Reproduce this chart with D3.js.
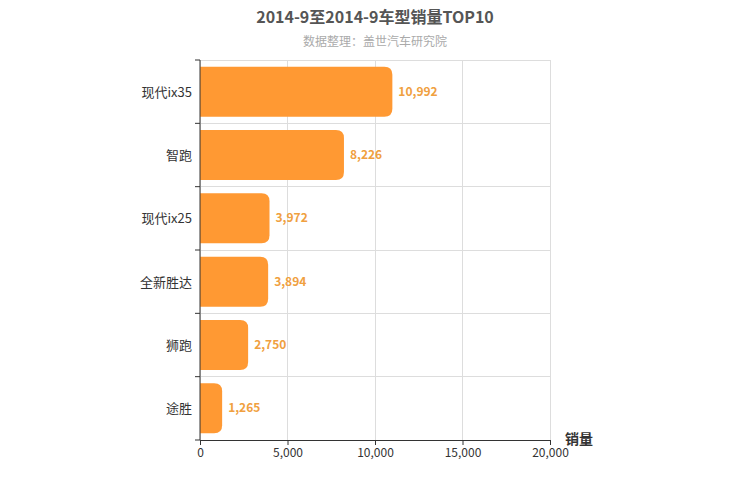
<!DOCTYPE html>
<html><head><meta charset="utf-8">
<script src="https://cdn.jsdelivr.net/npm/d3@7"></script>
<style>body{margin:0;background:#fff}text{font-family:"Noto Sans CJK SC","Noto Sans",sans-serif}</style>
</head><body><svg id="chart" width="750" height="500"></svg>
<script>
const categories = ['现代ix35', '智跑', '现代ix25', '全新胜达', '狮跑', '途胜'];
const sales = [10992, 8226, 3972, 3894, 2750, 1265];
const xTicks = [0, 5000, 10000, 15000, 20000];

const svg = d3.select('#chart');
const m = { left: 200, right: 550, top: 60, bottom: 440 };

const x = d3.scaleLinear().domain([0, 20000]).range([m.left, m.right]);
const y = d3.scaleBand().domain(categories).range([m.top, m.bottom]).paddingInner(0.2).paddingOuter(0.1);
const step = y.step();

svg.append('text').attr('x', 375).attr('y', 23).attr('text-anchor', 'middle')
    .attr('font-size', 16).attr('font-weight', 'bold').attr('fill', '#555').text('2014-9至2014-9车型销量TOP10');
svg.append('text').attr('x', 375).attr('y', 46).attr('text-anchor', 'middle')
    .attr('font-size', 12).attr('fill', '#aaa').text('数据整理：盖世汽车研究院');

// Grid
const grid = svg.append('g').attr('stroke', '#ddd').attr('shape-rendering', 'crispEdges');
xTicks.forEach(t => grid.append('line').attr('x1', x(t)).attr('x2', x(t)).attr('y1', m.top).attr('y2', m.bottom));
d3.range(categories.length).forEach(i => {
    const yy = m.top + i * (m.bottom - m.top) / categories.length;
    grid.append('line').attr('x1', m.left).attr('x2', m.right).attr('y1', yy).attr('y2', yy);
});

// Bars: flat left, rounded right
const r = 8;
const bandH = (m.bottom - m.top) / categories.length;
const barH = 50;
svg.append('g').selectAll('path').data(categories).join('path')
    .attr('fill', '#ff9933')
    .attr('d', (c, i) => {
        const x0 = x(0), x1 = x(sales[i]);
        const y0 = m.top + i * bandH + (bandH - barH) / 2, y1 = y0 + barH;
        return `M${x0},${y0}H${x1 - r}Q${x1},${y0} ${x1},${y0 + r}V${y1 - r}Q${x1},${y1} ${x1 - r},${y1}H${x0}Z`;
    });

svg.append('g').selectAll('text').data(categories).join('text')
    .attr('x', (c, i) => x(sales[i]) + 6)
    .attr('y', (c, i) => m.top + (i + 0.5) * bandH + 4)
    .attr('font-size', 12).attr('font-weight', 'bold').attr('fill', '#f0a040')
    .text((c, i) => d3.format(',')(sales[i]));

// Axes
const xAxis = svg.append('g').attr('transform', `translate(0,${m.bottom})`)
    .call(d3.axisBottom(x).tickValues(xTicks).tickFormat(d3.format(',')).tickSize(5));
xAxis.selectAll('text').attr('font-size', 12).attr('fill', '#333');
xAxis.selectAll('line,path').attr('stroke', '#333');

const yAxis = svg.append('g').attr('transform', `translate(${m.left},0)`);
yAxis.append('line').attr('x1', 0).attr('x2', 0).attr('y1', m.top).attr('y2', m.bottom).attr('stroke', '#333');
d3.range(categories.length + 1).forEach(i => {
    const yy = m.top + i * bandH;
    yAxis.append('line').attr('x1', -5).attr('x2', 0).attr('y1', yy).attr('y2', yy).attr('stroke', '#333');
});
yAxis.selectAll('text.cat').data(categories).join('text')
    .attr('x', -8).attr('y', (c, i) => m.top + (i + 0.5) * bandH + 5)
    .attr('text-anchor', 'end').attr('font-size', 13).attr('fill', '#333').text(c => c);

svg.append('text').attr('x', 565).attr('y', 444).attr('font-size', 14).attr('font-weight', 'bold')
    .attr('fill', '#333').text('销量');
</script></body></html>
